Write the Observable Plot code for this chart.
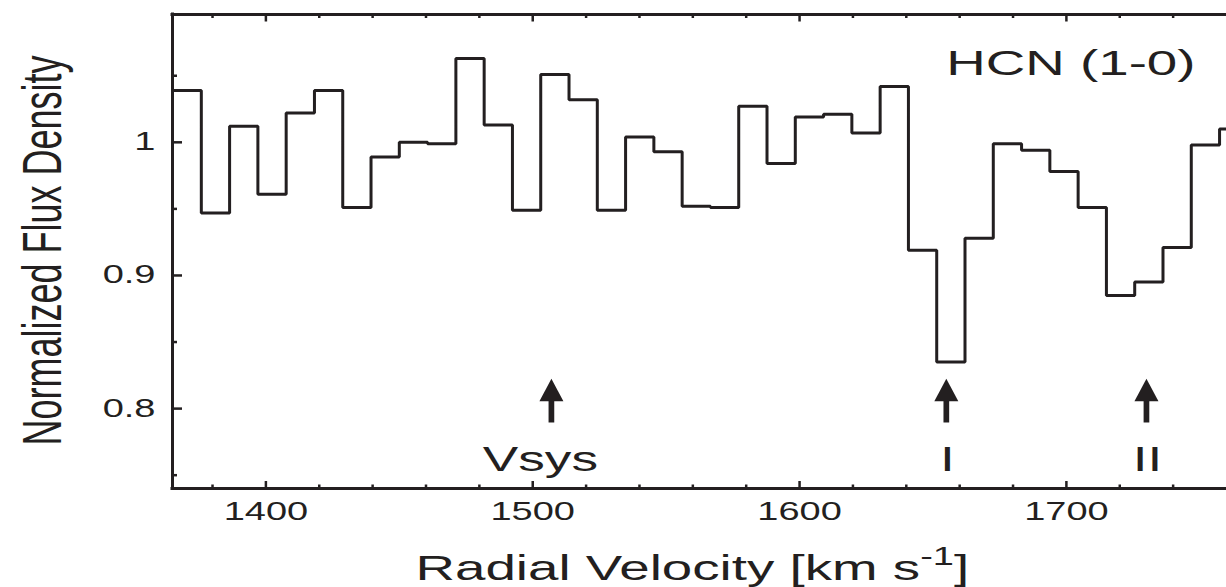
<!DOCTYPE html>
<html>
<head>
<meta charset="utf-8">
<script src="https://cdn.jsdelivr.net/npm/d3@7"></script>
<script src="https://cdn.jsdelivr.net/npm/@observablehq/plot@0.6"></script>
<style>
  html, body { margin: 0; padding: 0; background: #fff; }
  #chart { width: 1226px; height: 587px; overflow: hidden; }
</style>
</head>
<body>
<div id="chart"></div>
<script>
// HCN (1-0) absorption spectrum: channel centre velocities (km/s) and normalized flux
const velocity = [
  1370.5, 1381.1, 1391.7, 1402.3, 1412.9, 1423.5, 1434.1, 1444.7, 1455.3, 1465.9,
  1476.5, 1487.1, 1497.7, 1508.3, 1518.9, 1529.5, 1540.1, 1550.7, 1561.3, 1571.9,
  1582.5, 1593.1, 1603.7, 1614.3, 1624.9, 1635.5, 1646.1, 1656.7, 1667.3, 1677.9,
  1688.5, 1699.1, 1709.7, 1720.3, 1730.9, 1741.5, 1752.1, 1762.7
];
const flux = [
  1.039, 0.947, 1.012, 0.961, 1.022, 1.039, 0.951, 0.989, 1.000, 0.999,
  1.063, 1.013, 0.949, 1.051, 1.032, 0.949, 1.004, 0.993, 0.952, 0.951,
  1.027, 0.984, 1.019, 1.021, 1.007, 1.042, 0.919, 0.835, 0.928, 0.999,
  0.994, 0.978, 0.951, 0.885, 0.895, 0.921, 0.998, 1.010
];

// Velocity markers: systemic velocity and the two absorption components
const markerNames = ["Vsys", "I", "II"];
const markerVelocity = [1507, 1655, 1730];

// Axis ticks
const xMajorTicks = [1400, 1500, 1600, 1700];
const xMinorTicks = [1380, 1420, 1440, 1460, 1480, 1520, 1540, 1560, 1580, 1620, 1640, 1660, 1680, 1720, 1740];
const yMajorTicks = [0.8, 0.9, 1];
const yMinorTicks = [0.75, 0.85, 0.95, 1.05];
const yTickLabels = ["0.8", "0.9", "1"];

const title = "HCN (1-0)";
const xLabel = "Radial Velocity [km s-1]";
const yLabel = "Normalized Flux Density";

// Layout
const W = 1226, H = 587;
const mL = 172, mR = 0, mT = 14, mB = 99;
const frameW = W - mL - mR, frameH = H - mT - mB;
const xDomain = [1365, 1760];
const yDomain = [0.74, 1.096];
const ink = "#231f20";
const font = "'Liberation Sans', Arial, Helvetica, sans-serif";
const stretchX = 1.52; // wide lettering

// Each channel becomes a flat segment spanning its full width
const chanWidth = velocity[1] - velocity[0];
const steps = velocity.flatMap((v, i) => [
  {v: v - chanWidth / 2, f: flux[i]},
  {v: v + chanWidth / 2, f: flux[i]}
]);

const markers = markerNames.map((name, i) => ({name, v: markerVelocity[i]}));
const headBase = 0.8056, shaftBottom = 0.7892, markerLabelY = 0.753;

// Filled arrowhead, anchored at the middle of its base
const arrowHead = {
  draw(context) {
    context.moveTo(0, -22.4);
    context.lineTo(12, 0);
    context.lineTo(-12, 0);
    context.closePath();
  }
};

const svg = Plot.plot({
  width: W,
  height: H,
  marginLeft: mL,
  marginRight: mR,
  marginTop: mT,
  marginBottom: mB,
  style: {fontFamily: font, color: ink, background: "#fff", overflow: "visible"},
  x: {domain: xDomain},
  y: {domain: yDomain},
  marks: [
    // tick labels
    Plot.axisX({ticks: xMajorTicks, tickSize: 0, tickPadding: 14, fontSize: 25, tickFormat: d => String(d), label: null}),
    Plot.axisY({ticks: yMajorTicks, tickSize: 0, tickPadding: 17, fontSize: 25,
      tickFormat: d => yTickLabels[yMajorTicks.indexOf(d)], label: null}),

    // inward ticks on bottom, top and left edges
    Plot.tickX(xMajorTicks, {x: d => d, insetTop: frameH - 7, stroke: ink, strokeWidth: 2.5}),
    Plot.tickX(xMinorTicks, {x: d => d, insetTop: frameH - 3.5, stroke: ink, strokeWidth: 2.5}),
    Plot.tickX(xMajorTicks, {x: d => d, insetBottom: frameH - 7.5, stroke: ink, strokeWidth: 2.5}),
    Plot.tickX(xMinorTicks, {x: d => d, insetBottom: frameH - 4, stroke: ink, strokeWidth: 2.5}),
    Plot.tickY(yMajorTicks, {y: d => d, insetRight: frameW - 10, stroke: ink, strokeWidth: 2.5}),
    Plot.tickY(yMinorTicks, {y: d => d, insetRight: frameW - 5, stroke: ink, strokeWidth: 2.5}),

    // frame: left, bottom and top edges
    Plot.ruleX([xDomain[0]], {stroke: ink, strokeWidth: 3, strokeLinecap: "square"}),
    Plot.ruleY([yDomain[0], yDomain[1]], {stroke: ink, strokeWidth: 3, strokeLinecap: "square"}),

    // spectrum
    Plot.line(steps, {x: "v", y: "f", stroke: ink, strokeWidth: 3, strokeLinejoin: "miter", clip: true}),

    // velocity markers
    Plot.ruleX(markers, {x: "v", y1: shaftBottom, y2: headBase, stroke: ink, strokeWidth: 5.7}),
    Plot.dot(markers, {x: "v", y: headBase, symbol: arrowHead, r: 8, fill: ink, stroke: "none"}),
    Plot.text(markers.filter(d => d.name === "Vsys"), {x: "v", y: markerLabelY, text: "name", dx: -11,
      fontSize: 35, lineAnchor: "bottom", fill: ink}),
    Plot.text(markers.filter(d => d.name !== "Vsys"), {x: "v", y: markerLabelY, text: "name", dx: 1,
      fontSize: 35, lineAnchor: "bottom", fill: ink}),

    // title inside the panel
    Plot.text([title], {frameAnchor: "top-right", text: d => d, textAnchor: "end", dx: -31, dy: 60,
      lineAnchor: "bottom", fontSize: 36, fill: ink}),

    // axis titles
    Plot.text([xLabel], {frameAnchor: "bottom-left", text: d => d, textAnchor: "start", dx: 243, dy: 91,
      lineAnchor: "bottom", fontSize: 36, fill: ink}),
    Plot.text([yLabel], {frameAnchor: "left", text: d => d, rotate: -90, textAnchor: "middle", dx: -112, dy: -1,
      lineAnchor: "bottom", fontSize: 36, fill: ink})
  ]
});

// Superscript for the unit in the x-axis title
d3.select(svg).selectAll("text").filter(function () { return this.textContent === xLabel; })
  .each(function () {
    const t = d3.select(this).text("");
    t.append("tspan").text("Radial Velocity [km s");
    t.append("tspan").attr("dy", -15).attr("font-size", 25).text("-1");
    t.append("tspan").attr("dy", 15).attr("font-size", 36).text("]");
  });

// Widen all lettering horizontally about each label's anchor point
svg.querySelectorAll("text").forEach(t => {
  const tr = t.getAttribute("transform");
  if (tr && tr.includes("rotate")) {
    t.setAttribute("transform", tr.replace("rotate", `scale(${stretchX},1) rotate`));
  } else if (tr) {
    t.setAttribute("transform", `${tr} scale(${stretchX},1)`);
  } else {
    const x = +(t.getAttribute("x") || 0), y = +(t.getAttribute("y") || 0);
    t.setAttribute("transform", `translate(${x},${y}) scale(${stretchX},1) translate(${-x},${-y})`);
  }
});

document.getElementById("chart").appendChild(svg);
</script>
</body>
</html>
